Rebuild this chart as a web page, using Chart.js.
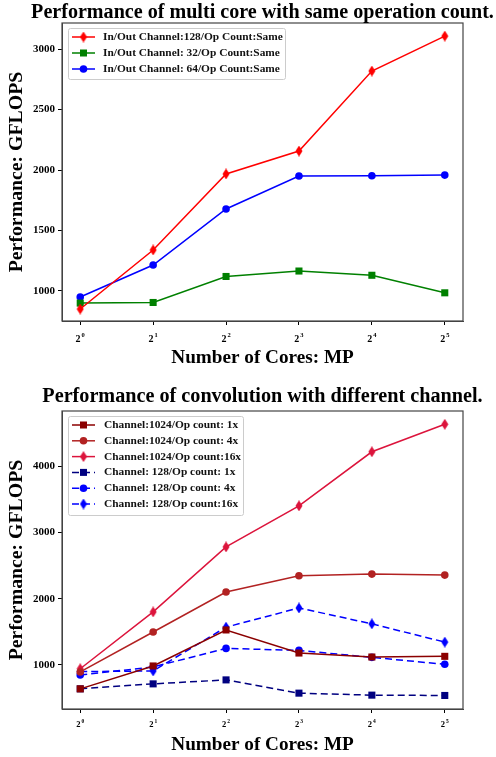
<!DOCTYPE html>
<html lang="en">
<head>
<meta charset="UTF-8">
<title>Multi core performance</title>
<script src="https://cdn.jsdelivr.net/npm/chart.js"></script>
<style>
body { margin: 0; background: #ffffff; width: 496px; height: 757px; overflow: hidden; }
.wrap { position: absolute; left: 0; width: 496px; }
#top { top: 0; height: 378px; }
#bottom { top: 378px; height: 379px; }
</style>
</head>
<body>
<div class="wrap" id="top"><canvas id="chartTop" width="496" height="378"></canvas></div>
<div class="wrap" id="bottom"><canvas id="chartBottom" width="496" height="379"></canvas></div>

<script>
// x positions are 2^0 .. 2^5 cores
const coreSteps = [0, 1, 2, 3, 4, 5];
const coreBase = '2';
const coreExponents = ['0', '1', '2', '3', '4', '5'];

// top chart: same operation count
const topLabels = ['In/Out Channel:128/Op Count:Same', 'In/Out Channel: 32/Op Count:Same', 'In/Out Channel: 64/Op Count:Same'];
const ch128Same = [851, 1339, 1967, 2157, 2818, 3107];
const ch32Same = [900, 905, 1120, 1165, 1130, 985];
const ch64Same = [950, 1215, 1678, 1950, 1952, 1958];
const topYTicks = [1000, 1500, 2000, 2500, 3000];

// bottom chart: different channel
const bottomLabels = ['Channel:1024/Op count: 1x', 'Channel:1024/Op count: 4x', 'Channel:1024/Op count:16x',
  'Channel: 128/Op count: 1x', 'Channel: 128/Op count: 4x', 'Channel: 128/Op count:16x'];
const ch1024x1 = [640, 985, 1528, 1180, 1120, 1130];
const ch1024x4 = [895, 1497, 2100, 2345, 2370, 2355];
const ch1024x16 = [943, 1800, 2780, 3400, 4215, 4630];
const ch128x1 = [640, 715, 775, 575, 545, 540];
const ch128x4 = [850, 970, 1250, 1220, 1115, 1010];
const ch128x16 = [900, 910, 1570, 1860, 1620, 1345];
const bottomYTicks = [1000, 2000, 3000, 4000];

const SERIF = "'Liberation Serif', 'Times New Roman', serif";

// matplotlib-like thin diamond marker
function thinDiamond(color) {
  const c = document.createElement('canvas');
  c.width = 8; c.height = 11;
  const g = c.getContext('2d');
  g.fillStyle = color;
  g.beginPath();
  g.moveTo(4, 0); g.lineTo(7.5, 5.5); g.lineTo(4, 11); g.lineTo(0.5, 5.5);
  g.closePath();
  g.fill();
  return c;
}

function pts(values) {
  return values.map((v, i) => ({ x: coreSteps[i], y: v }));
}

function series(label, values, color, marker, dashed) {
  const isDiamond = marker === 'diamond';
  return {
    label: label,
    data: pts(values),
    borderColor: color,
    backgroundColor: color,
    borderWidth: 1.5,
    borderDash: dashed ? [7, 4] : [],
    pointStyle: isDiamond ? thinDiamond(color) : marker,
    pointRadius: marker === 'rect' ? 5 : 3.8,
    pointBorderWidth: 0,
    tension: 0,
    fill: false,
    _marker: marker
  };
}

// legend drawn inside the plot area, with a light frame
const boxLegend = {
  id: 'boxLegend',
  afterDraw(chart, args, opts) {
    const ctx = chart.ctx;
    const ds = chart.data.datasets;
    ctx.save();
    ctx.fillStyle = 'rgba(255,255,255,0.85)';
    ctx.strokeStyle = '#cccccc';
    ctx.lineWidth = 1;
    ctx.beginPath();
    ctx.roundRect(opts.x + 0.5, opts.y + 0.5, opts.w, opts.h, 2);
    ctx.fill();
    ctx.stroke();
    ctx.font = 'bold 11.4px ' + SERIF;
    ctx.textBaseline = 'middle';
    ds.forEach((d, i) => {
      const y = opts.y + opts.first + i * opts.step;
      const x0 = opts.x + 4;
      ctx.strokeStyle = d.borderColor;
      ctx.lineWidth = 1.5;
      ctx.setLineDash(d.borderDash || []);
      ctx.beginPath();
      ctx.moveTo(x0, y); ctx.lineTo(x0 + 23, y);
      ctx.stroke();
      ctx.setLineDash([]);
      const mx = x0 + 11.5;
      ctx.fillStyle = d.borderColor;
      if (d._marker === 'diamond') {
        ctx.drawImage(d.pointStyle, mx - 4, y - 5.5);
      } else if (d._marker === 'rect') {
        ctx.fillRect(mx - 3.5, y - 3.5, 7, 7);
      } else {
        ctx.beginPath(); ctx.arc(mx, y, 3.8, 0, Math.PI * 2); ctx.fill();
      }
      ctx.fillStyle = '#111111';
      ctx.fillText(d.label, opts.x + opts.textX, y);
    });
    ctx.restore();
  }
};

// 2^n tick labels with a raised exponent
const powerTicks = {
  id: 'powerTicks',
  afterDraw(chart, args, opts) {
    const sx = chart.scales.x;
    const ctx = chart.ctx;
    ctx.save();
    ctx.fillStyle = '#000000';
    ctx.textBaseline = 'alphabetic';
    coreSteps.forEach((v, i) => {
      const px = sx.getPixelForValue(v);
      ctx.font = 'bold ' + opts.size + 'px ' + SERIF;
      const wb = ctx.measureText(coreBase).width;
      ctx.font = 'bold ' + opts.expSize + 'px ' + SERIF;
      const we = ctx.measureText(coreExponents[i]).width;
      const start = px - (wb + 1 + we) / 2;
      const base = sx.top + opts.baseline;
      ctx.font = 'bold ' + opts.size + 'px ' + SERIF;
      ctx.fillText(coreBase, start, base);
      ctx.font = 'bold ' + opts.expSize + 'px ' + SERIF;
      ctx.fillText(coreExponents[i], start + wb + 1, base - opts.raise);
    });
    ctx.restore();
  }
};

// title centred over the axes, drawn at full width
const axesTitle = {
  id: 'axesTitle',
  afterDraw(chart, args, opts) {
    const a = chart.chartArea;
    const ctx = chart.ctx;
    ctx.save();
    ctx.fillStyle = '#000000';
    ctx.font = 'bold ' + opts.size + 'px ' + SERIF;
    ctx.textAlign = 'center';
    ctx.textBaseline = 'middle';
    ctx.fillText(opts.text, (a.left + a.right) / 2, opts.y);
    ctx.restore();
  }
};

// full box around the axes
const frame = {
  id: 'frame',
  afterDatasetsDraw(chart) {
    const a = chart.chartArea;
    const ctx = chart.ctx;
    ctx.save();
    ctx.strokeStyle = '#444444';
    ctx.lineWidth = 1.2;
    ctx.strokeRect(a.left, a.top, a.right - a.left, a.bottom - a.top);
    ctx.restore();
  }
};

function makeChart(id, datasets, cfg) {
  return new Chart(document.getElementById(id), {
    type: 'line',
    data: { datasets: datasets },
    plugins: [frame, boxLegend, powerTicks, axesTitle],
    options: {
      responsive: false,
      animation: false,
      layout: { padding: { left: 0, right: 33, top: cfg.padTop, bottom: cfg.padBottom } },
      plugins: {
        legend: { display: false },
        tooltip: { enabled: false },
        title: { display: false },
        axesTitle: { text: cfg.title, size: cfg.titleSize, y: cfg.titleY },
        boxLegend: cfg.legend,
        powerTicks: cfg.xTicks
      },
      scales: {
        x: {
          type: 'linear',
          min: -0.25,
          max: 5.25,
          afterBuildTicks: s => { s.ticks = coreSteps.map(v => ({ value: v })); },
          afterFit: s => { s.height = cfg.xHeight; },
          ticks: {
            callback: () => '',
            font: { family: SERIF, size: 9, weight: 'bold' },
            padding: 3,
            maxRotation: 0
          },
          grid: { drawOnChartArea: false, drawTicks: true, tickLength: 4, color: '#000000' },
          border: { display: true, color: '#444444' },
          title: {
            display: true,
            text: 'Number of Cores: MP',
            color: '#000000',
            font: { family: SERIF, size: 19.2, weight: 'bold', lineHeight: 1.0 },
            padding: { top: 2, bottom: 0 }
          }
        },
        y: {
          min: cfg.yMin,
          max: cfg.yMax,
          afterBuildTicks: s => { s.ticks = cfg.yTicks.map(v => ({ value: v })); },
          afterFit: s => { s.width = 62; },
          ticks: {
            callback: v => String(v),
            color: '#000000',
            font: { family: SERIF, size: 11, weight: 'bold' },
            padding: 3
          },
          grid: { drawOnChartArea: false, drawTicks: true, tickLength: 4, color: '#000000' },
          border: { display: true, color: '#444444' },
          title: {
            display: true,
            text: 'Performance: GFLOPS',
            color: '#000000',
            font: { family: SERIF, size: 19.8, weight: 'bold' },
            padding: { top: 5, bottom: 0 }
          }
        }
      }
    }
  });
}

makeChart('chartTop', [
  series(topLabels[0], ch128Same, '#ff0000', 'diamond', false),
  series(topLabels[1], ch32Same, '#008000', 'rect', false),
  series(topLabels[2], ch64Same, '#0000ff', 'circle', false)
], {
  title: 'Performance of multi core with same operation count.',
  titleSize: 20.1, titleY: 13,
  padTop: 23, padBottom: 10, xHeight: 47,
  xTicks: { size: 10, expSize: 6.5, baseline: 21, raise: 5 },
  yMin: 752, yMax: 3215, yTicks: topYTicks,
  legend: { x: 68, y: 28, w: 217, h: 51, first: 9, step: 16, textX: 35 }
});

makeChart('chartBottom', [
  series(bottomLabels[0], ch1024x1, '#8b0000', 'rect', false),
  series(bottomLabels[1], ch1024x4, '#b22222', 'circle', false),
  series(bottomLabels[2], ch1024x16, '#dc143c', 'diamond', false),
  series(bottomLabels[3], ch128x1, '#000080', 'rect', true),
  series(bottomLabels[4], ch128x4, '#0000ff', 'circle', true),
  series(bottomLabels[5], ch128x16, '#0000ff', 'diamond', true)
], {
  title: 'Performance of convolution with different channel.',
  titleSize: 20.2, titleY: 19,
  padTop: 33, padBottom: 2, xHeight: 46,
  xTicks: { size: 8.5, expSize: 5.5, baseline: 18, raise: 4.5 },
  yMin: 336, yMax: 4830, yTicks: bottomYTicks,
  legend: { x: 68, y: 38, w: 175, h: 99, first: 9, step: 15.8, textX: 36 }
});
</script>
</body>
</html>
